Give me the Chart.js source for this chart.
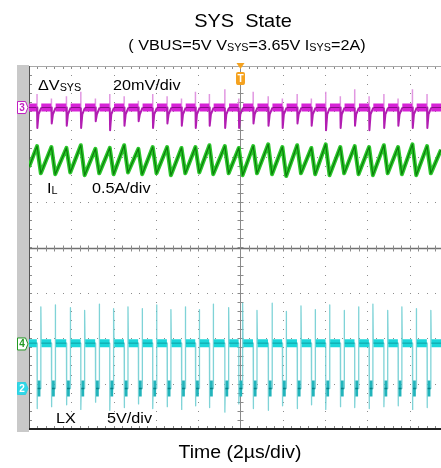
<!DOCTYPE html>
<html>
<head>
<meta charset="utf-8">
<script src="https://cdn.jsdelivr.net/npm/chart.js@4.4.1/dist/chart.umd.min.js"></script>
<style>
  html, body { margin: 0; padding: 0; background: #fff; overflow: hidden; }
  canvas { display: block; }
</style>
</head>
<body>
<canvas id="scope" width="441" height="468"></canvas>
<script>
// ---- captured values -------------------------------------------------------
// visible time span (µs), 2 µs per division
const timeSpan = [0, 19.48];
const timeDivs = [0, 2, 4, 6, 8, 10, 12, 14, 16, 18];

// LX falling edges (µs): start of each switch off interval
const edgeTimes = [0.38, 1.06, 1.77, 2.45, 3.14, 3.82, 4.50, 5.17, 5.85, 6.53,
                   7.21, 7.87, 8.53, 9.26, 9.92, 10.60, 11.31, 11.98, 12.68, 13.35,
                   14.03, 14.72, 15.40, 16.08, 16.78, 17.45, 18.13, 18.82];
const offTime = [0.18];               // µs, low time of LX in every cycle

// LX switch node (V), 5 V/div
const lxLevels = [5, 0];              // high, low
const lxOvershoot = [9.0, 9.2, 8.9, 8.6, 9.3, 8.8, 9.0, 8.8, 9.2, 8.7, 9.0, 8.7, 9.3, 8.9,
                     9.4, 8.6, 9.4, 8.5, 9.1, 8.7, 9.2, 8.6, 9.0, 9.3, 8.6, 9.0, 8.8, 8.6];
const lxUndershoot = [-2.2, -2.0, -1.8, -2.3, -1.5, -2.4, -2.1, -1.7, -2.2, -2.0, -2.3, -1.9, -2.1, -2.6,
                      -1.7, -2.2, -2.4, -1.9, -2.2, -1.8, -2.3, -2.0, -2.1, -2.2, -2.0, -1.9, -2.3, -2.1];

// inductor current IL (A), 0.5 A/div
const ilEnds = [1.95, 2.14];          // at left and right edge of screen
const ilPeak = [2.18, 2.17, 2.16, 2.19, 2.15, 2.16, 2.19, 2.15, 2.17, 2.17, 2.16, 2.17, 2.19, 2.18,
                2.16, 2.18, 2.20, 2.17, 2.19, 2.16, 2.20, 2.17, 2.18, 2.17, 2.19, 2.17, 2.20, 2.18];
const ilTrough = [1.88, 1.87, 1.89, 1.86, 1.88, 1.87, 1.89, 1.87, 1.88, 1.86, 1.88, 1.89, 1.87, 1.88,
                  1.86, 1.88, 1.87, 1.85, 1.88, 1.87, 1.86, 1.88, 1.87, 1.86, 1.88, 1.87, 1.86, 1.88];

// VSYS ripple (mV, AC), 20 mV/div
const vsysSpike = [6, 4, 5, 7, 4, 6, 5, 3, 6, 5, 4, 7, 6, 8, 4, 7, 5, 4, 6, 4, 7, 5, 8, 5, 6, 4, 8, 6];
const vsysDip = [-9, -7, -8, -9, -6, -10, -8, -6, -9, -7, -8, -9, -8, -9,
                 -9, -7, -8, -9, -7, -8, -10, -9, -8, -10, -9, -8, -9, -9];
const vsysSettle = [-3];              // mV, just after the dip

// ---- waveform point lists --------------------------------------------------
const tEnd = timeSpan[1];
const tOff = offTime[0];

function lxTrace() {
  const p = [{x: 0, y: lxLevels[0]}];
  edgeTimes.forEach((t0, i) => {
    const t1 = t0 + tOff;
    p.push({x: t0, y: lxLevels[0]}, {x: t0, y: lxUndershoot[i]}, {x: t0 + 0.02, y: lxLevels[1]},
           {x: t1, y: lxLevels[1]}, {x: t1, y: lxOvershoot[i]}, {x: t1 + 0.02, y: lxLevels[0]});
  });
  p.push({x: tEnd, y: lxLevels[0]});
  return p;
}
function lxHigh() {
  const p = [];
  let start = 0;
  edgeTimes.forEach((t0) => {
    p.push({x: start, y: lxLevels[0]}, {x: t0 - 0.01, y: lxLevels[0]}, {x: t0 - 0.005, y: null});
    start = t0 + tOff + 0.03;
  });
  p.push({x: start, y: lxLevels[0]}, {x: tEnd, y: lxLevels[0]});
  return p;
}
function lxLow() {
  const p = [];
  edgeTimes.forEach((t0) => {
    p.push({x: t0 + 0.03, y: lxLevels[1]}, {x: t0 + tOff - 0.02, y: lxLevels[1]}, {x: t0 + tOff, y: null});
  });
  return p;
}
function ilTrace() {
  const p = [{x: 0, y: ilEnds[0]}];
  edgeTimes.forEach((t0, i) => {
    p.push({x: t0, y: ilPeak[i]}, {x: t0 + tOff, y: ilTrough[i]});
  });
  p.push({x: tEnd, y: ilEnds[1]});
  return p;
}
function vsysUp() {
  const p = [];
  edgeTimes.forEach((t0, i) => {
    p.push({x: t0, y: 0}, {x: t0, y: vsysSpike[i]}, {x: t0 + 0.005, y: null});
  });
  return p;
}
function vsysDown() {
  const p = [];
  edgeTimes.forEach((t0, i) => {
    p.push({x: t0, y: 0}, {x: t0 + 0.015, y: vsysDip[i]}, {x: t0 + 0.07, y: vsysSettle[0]},
           {x: t0 + 0.2, y: 0}, {x: t0 + 0.205, y: null});
  });
  return p;
}
function vsysFlat() {
  const p = [];
  let start = 0;
  edgeTimes.forEach((t0) => {
    p.push({x: start, y: 0}, {x: t0 - 0.01, y: 0}, {x: t0 - 0.005, y: null});
    start = t0 + 0.2;
  });
  p.push({x: start, y: 0}, {x: tEnd, y: 0});
  return p;
}

// ---- drawing helpers --------------------------------------------------------
const FONT = '"Liberation Sans", Arial, Helvetica, sans-serif';
const STRETCH = 1.08;

// draws a run of normal/subscript pieces; align: 'left' or 'center'
function richText(ctx, parts, x, y, size, color, align) {
  ctx.save();
  ctx.fillStyle = color;
  ctx.textBaseline = 'alphabetic';
  ctx.textAlign = 'left';
  const subSize = Math.round(size * 0.66);
  let w = 0;
  parts.forEach(pt => {
    ctx.font = (pt.sub ? subSize : size) + 'px ' + FONT;
    w += ctx.measureText(pt.t).width;
  });
  ctx.translate(x, y);
  ctx.scale(STRETCH, 1);
  let cx = align === 'center' ? -w / 2 : 0;
  parts.forEach(pt => {
    ctx.font = (pt.sub ? subSize : size) + 'px ' + FONT;
    ctx.fillText(pt.t, cx, pt.sub ? 1 : 0);
    cx += ctx.measureText(pt.t).width;
  });
  ctx.restore();
}

function channelTag(ctx, x, yc, label, stroke, fill, textColor) {
  ctx.save();
  ctx.beginPath();
  ctx.moveTo(x, yc - 6);
  ctx.lineTo(x + 8, yc - 6);
  ctx.lineTo(x + 10.5, yc);
  ctx.lineTo(x + 8, yc + 6);
  ctx.lineTo(x, yc + 6);
  ctx.closePath();
  ctx.fillStyle = fill;
  ctx.fill();
  ctx.lineWidth = 1;
  ctx.strokeStyle = stroke;
  ctx.stroke();
  ctx.fillStyle = textColor;
  ctx.font = 'bold 10px ' + FONT;
  ctx.textAlign = 'center';
  ctx.textBaseline = 'middle';
  ctx.fillText(label, x + 4.5, yc + 0.5);
  ctx.restore();
}

// scope graticule: dotted divisions, centre cross with minor ticks, frame
const graticule = {
  id: 'graticule',
  beforeDraw(chart) {
    const {ctx, chartArea: a} = chart;
    ctx.save();
    ctx.fillStyle = '#c9c9c9';
    ctx.fillRect(17, a.top - 1, a.left - 17, a.bottom - a.top + 4);
    ctx.restore();
  },
  beforeDatasetsDraw(chart) {
    const {ctx, chartArea: a, scales} = chart;
    const x = scales.x, y = scales.yd;
    const px = t => Math.round(x.getPixelForValue(t)) + 0.5;
    const py = d => Math.round(y.getPixelForValue(d)) + 0.5;
    ctx.save();
    ctx.beginPath();
    ctx.rect(a.left, a.top - 2, a.right - a.left, a.bottom - a.top + 4);
    ctx.clip();

    // dotted division lines
    ctx.fillStyle = '#8c8c8c';
    timeDivs.forEach(t => {
      if (t === 0 || t === 10) return;
      const X = Math.round(x.getPixelForValue(t));
      for (let d = -4; d <= 4.001; d += 0.2) ctx.fillRect(X, Math.round(y.getPixelForValue(d)), 1, 1);
    });
    [-3, -2, -1, 1, 2, 3].forEach(d => {
      const Y = Math.round(y.getPixelForValue(d));
      for (let t = 0; t <= tEnd; t += 0.4) ctx.fillRect(Math.round(x.getPixelForValue(t)), Y, 1, 1);
    });

    // centre cross
    ctx.strokeStyle = '#8a8a8a';
    ctx.lineWidth = 1;
    ctx.beginPath();
    ctx.moveTo(px(10), a.top); ctx.lineTo(px(10), a.bottom);
    ctx.stroke();
    ctx.strokeStyle = '#707070';
    ctx.lineWidth = 1.5;
    ctx.beginPath();
    ctx.moveTo(a.left, py(0)); ctx.lineTo(a.right, py(0));
    ctx.stroke();
    ctx.lineWidth = 1;
    ctx.strokeStyle = '#8a8a8a';
    ctx.beginPath();
    for (let d = -4; d <= 4.001; d += 0.2) {
      const Y = py(d);
      ctx.moveTo(px(10) - 3, Y); ctx.lineTo(px(10) + 3, Y);
      ctx.moveTo(a.left, Y); ctx.lineTo(a.left + 3, Y);
    }
    for (let t = 0; t <= tEnd; t += 0.4) {
      const X = px(t);
      ctx.moveTo(X, py(0) - 3); ctx.lineTo(X, py(0) + 3);
      ctx.moveTo(X, a.top); ctx.lineTo(X, a.top + 3);
      ctx.moveTo(X, a.bottom - 3); ctx.lineTo(X, a.bottom);
    }
    ctx.stroke();
    ctx.restore();

    // frame
    ctx.save();
    ctx.strokeStyle = '#a8a8a8';
    ctx.lineWidth = 1;
    ctx.beginPath();
    ctx.moveTo(a.left, a.top + 0.5); ctx.lineTo(a.right, a.top + 0.5);
    ctx.stroke();
    ctx.strokeStyle = '#555';
    ctx.beginPath();
    ctx.moveTo(a.left + 0.5, a.top); ctx.lineTo(a.left + 0.5, a.bottom);
    ctx.stroke();
    ctx.strokeStyle = '#222';
    ctx.lineWidth = 2;
    ctx.beginPath();
    ctx.moveTo(a.left, a.bottom); ctx.lineTo(a.right, a.bottom);
    ctx.stroke();
    ctx.restore();
  },
  afterDraw(chart) {
    const {ctx, chartArea: a, scales} = chart;
    const xc = scales.x.getPixelForValue(10);

    // titles
    richText(ctx, [{t: 'SYS  State'}], 243, 27, 18.5, '#000', 'center');
    richText(ctx, [{t: '( VBUS=5V V'}, {t: 'SYS', sub: true}, {t: '=3.65V I'}, {t: 'SYS', sub: true}, {t: '=2A)'}],
             247, 50, 15, '#000', 'center');
    richText(ctx, [{t: 'Time (2\u00b5s/div)'}], 240, 458, 18, '#000', 'center');

    // channel annotations
    richText(ctx, [{t: '\u0394V'}, {t: 'SYS', sub: true}], 38, 90, 15, '#000', 'left');
    richText(ctx, [{t: '20mV/div'}], 113, 90, 15, '#000', 'left');
    richText(ctx, [{t: 'I'}, {t: 'L', sub: true}], 47, 193, 15, '#000', 'left');
    richText(ctx, [{t: '0.5A/div'}], 92, 193, 15, '#000', 'left');
    richText(ctx, [{t: 'LX'}], 56, 423, 15, '#000', 'left');
    richText(ctx, [{t: '5V/div'}], 107, 423, 15, '#000', 'left');

    // ground markers at each channel's zero level
    channelTag(ctx, 17.5, scales.yV.getPixelForValue(0), '3', '#c020c0', '#fff', '#c020c0');
    channelTag(ctx, 17.5, scales.yI.getPixelForValue(0), '4', '#229922', '#fff', '#229922');
    channelTag(ctx, 17.5, scales.yLX.getPixelForValue(0), '2', '#30d0e0', '#30d8e8', '#fff');

    // trigger position marker
    ctx.save();
    ctx.fillStyle = '#f5a21f';
    ctx.beginPath();
    ctx.moveTo(xc - 4, a.top - 3); ctx.lineTo(xc + 4, a.top - 3); ctx.lineTo(xc, a.top + 3);
    ctx.closePath(); ctx.fill();
    ctx.beginPath();
    ctx.roundRect(xc - 4.5, a.top + 6, 9, 13, 2);
    ctx.fill();
    ctx.fillStyle = '#fff';
    ctx.font = 'bold 10px ' + FONT;
    ctx.textAlign = 'center';
    ctx.textBaseline = 'middle';
    ctx.fillText('T', xc, a.top + 13);
    ctx.restore();
  }
};

// ---- chart ------------------------------------------------------------------
const line = (data, yAxisID, color, width, order) => ({
  data, yAxisID, xAxisID: 'x', borderColor: color, borderWidth: width,
  pointRadius: 0, tension: 0, fill: false, spanGaps: false, order,
  borderJoinStyle: 'round', borderCapStyle: 'butt'
});

new Chart(document.getElementById('scope'), {
  type: 'line',
  data: {
    datasets: [
      line(lxTrace(), 'yLX', 'rgba(95,200,205,0.8)', 1.3, 12),
      line(lxHigh(), 'yLX', '#1cd7da', 8, 11),
      line(lxHigh(), 'yLX', '#0f9ea3', 1, 10),
      line(lxLow(), 'yLX', '#22b4bb', 16, 9),
      line(lxLow(), 'yLX', '#0c7f85', 1.5, 8),
      line(ilTrace(), 'yI', '#2bc72b', 4, 7),
      line(ilTrace(), 'yI', '#0b7d0b', 1.2, 6),
      line(vsysUp(), 'yV', 'rgba(222,140,222,0.9)', 1.5, 5),
      line(vsysFlat(), 'yV', '#d622d6', 8, 4),
      line(vsysFlat(), 'yV', '#8a0c8a', 1.2, 3),
      line(vsysDown(), 'yV', '#b21db2', 2, 2)
    ]
  },
  options: {
    responsive: false,
    animation: false,
    events: [],
    devicePixelRatio: 1,
    layout: { padding: { left: 29, top: 66, right: 0, bottom: 39 } },
    plugins: { legend: { display: false }, tooltip: { enabled: false } },
    scales: {
      x:   { type: 'linear', min: timeSpan[0], max: timeSpan[1], display: false },
      yd:  { type: 'linear', min: -4, max: 4, display: false },
      yV:  { type: 'linear', min: -141.7, max: 18.3, display: false },
      yI:  { type: 'linear', min: -0.937, max: 3.063, display: false },
      yLX: { type: 'linear', min: -4.46, max: 35.53, display: false }
    }
  },
  plugins: [graticule]
});
</script>
</body>
</html>
